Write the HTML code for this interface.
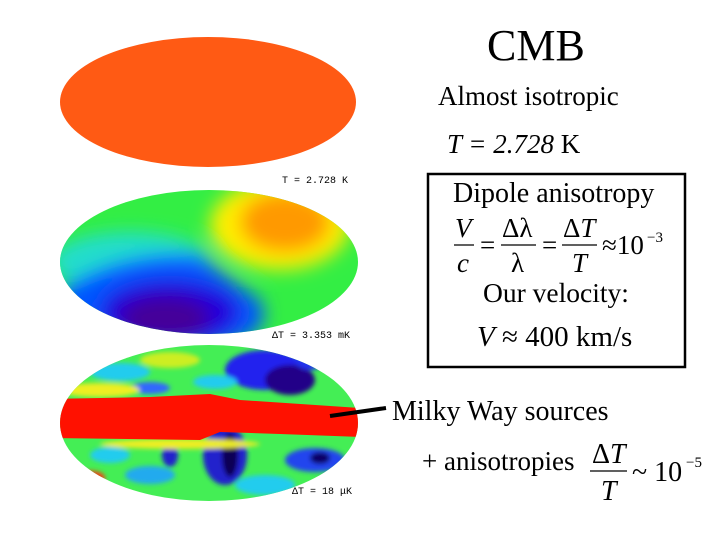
<!DOCTYPE html>
<html><head><meta charset="utf-8"><style>
html,body{margin:0;padding:0;background:#fff;width:720px;height:540px;overflow:hidden}
svg{display:block}
.s{font-family:"Liberation Serif",serif;fill:#000}
</style></head><body>
<svg width="720" height="540" viewBox="0 0 720 540">
<defs>
<clipPath id="c2"><ellipse cx="209" cy="262" rx="149" ry="72"/></clipPath>
<clipPath id="c3"><ellipse cx="209" cy="423" rx="149" ry="78"/></clipPath>
<filter id="b1" x="-50%" y="-50%" width="200%" height="200%"><feGaussianBlur stdDeviation="9"/></filter>
<filter id="b2" x="-50%" y="-50%" width="200%" height="200%"><feGaussianBlur stdDeviation="2.5"/></filter>
</defs>

<ellipse cx="208" cy="102" rx="148" ry="65" fill="#ff5a14"/>
<text x="282" y="183" font-family="Liberation Mono,monospace" font-size="10">T = 2.728 K</text>

<g clip-path="url(#c2)">
<rect x="50" y="180" width="320" height="170" fill="#33ee44"/>
<g filter="url(#b1)">
<ellipse cx="280" cy="225" rx="70" ry="45" fill="#ffee00"/>
<ellipse cx="285" cy="222" rx="45" ry="30" fill="#ff9900"/>
<ellipse cx="130" cy="262" rx="80" ry="30" fill="#22ddcc"/>
<path d="M60 290 Q120 250 200 255 Q230 280 260 300 Q280 340 200 350 L60 350 Z" fill="#0055ff"/>
<ellipse cx="170" cy="312" rx="70" ry="33" fill="#2200dd"/>
<ellipse cx="165" cy="318" rx="45" ry="22" fill="#440099"/>
</g>
</g>
<text x="272" y="338" font-family="Liberation Mono,monospace" font-size="10">ΔT = 3.353 mK</text>

<g clip-path="url(#c3)">
<rect x="50" y="340" width="320" height="170" fill="#44ee55"/>
<g filter="url(#b2)">
<ellipse cx="265" cy="370" rx="40" ry="20" fill="#2222ee"/>
<ellipse cx="290" cy="380" rx="25" ry="15" fill="#220088"/>
<ellipse cx="310" cy="360" rx="15" ry="10" fill="#2233ee"/>
<ellipse cx="120" cy="372" rx="30" ry="9" fill="#22ccee"/>
<ellipse cx="150" cy="388" rx="20" ry="6" fill="#3366ff"/>
<ellipse cx="215" cy="382" rx="22" ry="7" fill="#22ccee"/>
<ellipse cx="225" cy="455" rx="22" ry="30" fill="#2222cc"/>
<ellipse cx="230" cy="455" rx="8" ry="22" fill="#110055"/>
<ellipse cx="315" cy="460" rx="30" ry="12" fill="#2244ee"/>
<ellipse cx="320" cy="458" rx="10" ry="6" fill="#110066"/>
<ellipse cx="150" cy="475" rx="25" ry="9" fill="#22aaee"/>
<ellipse cx="170" cy="455" rx="8" ry="12" fill="#2222cc"/>
<ellipse cx="110" cy="455" rx="20" ry="8" fill="#22ccee"/>
<ellipse cx="265" cy="485" rx="30" ry="10" fill="#22ccee"/>
<ellipse cx="90" cy="478" rx="15" ry="7" fill="#ff3311"/>
<ellipse cx="170" cy="360" rx="30" ry="8" fill="#ccee22"/>
<ellipse cx="100" cy="390" rx="40" ry="7" fill="#eeee22"/>
<ellipse cx="180" cy="444" rx="80" ry="5" fill="#eeee22"/>
</g>
<path d="M50 399 L150 397 L210 394 L240 400 L360 408 L360 437 L280 434 L220 432 L200 440 L50 438 Z" fill="#ff1100"/>
</g>
<text x="292" y="494" font-family="Liberation Mono,monospace" font-size="10">ΔT = 18 μK</text>
<line x1="330" y1="416" x2="386" y2="408" stroke="#000" stroke-width="4"/>

<text class="s" x="487" y="60" font-size="44">CMB</text>
<text class="s" x="438" y="105" font-size="27">Almost isotropic</text>
<text class="s" x="447" y="153" font-size="27"><tspan font-style="italic">T = 2.728</tspan> K</text>

<rect x="428" y="174" width="257" height="193" fill="none" stroke="#000" stroke-width="2.5"/>
<text class="s" x="453" y="202" font-size="28">Dipole anisotropy</text>
<g class="s" font-size="27">
<text x="455" y="237" font-style="italic">V</text>
<line x1="454" y1="245" x2="474" y2="245" stroke="#000" stroke-width="1.3"/>
<text x="457" y="272" font-style="italic">c</text>
<text x="480" y="254">=</text>
<text x="502" y="237">Δλ</text>
<line x1="501" y1="245" x2="536" y2="245" stroke="#000" stroke-width="1.3"/>
<text x="511" y="272">λ</text>
<text x="542" y="254">=</text>
<text x="563" y="237">Δ<tspan font-style="italic">T</tspan></text>
<line x1="562" y1="245" x2="597" y2="245" stroke="#000" stroke-width="1.3"/>
<text x="572" y="272" font-style="italic">T</text>
<text x="602" y="254">≈10</text>
<text x="647" y="242" font-size="15">−3</text>
</g>
<text class="s" x="483" y="302" font-size="27.5">Our velocity:</text>
<text class="s" x="477" y="346" font-size="29"><tspan font-style="italic">V</tspan> ≈ 400 km/s</text>

<text class="s" x="392" y="420" font-size="28">Milky Way sources</text>
<text class="s" x="422" y="470" font-size="27">+ anisotropies</text>
<g class="s" font-size="28">
<text x="592" y="463">Δ<tspan font-style="italic">T</tspan></text>
<line x1="590" y1="471" x2="627" y2="471" stroke="#000" stroke-width="1.3"/>
<text x="601" y="500" font-style="italic">T</text>
<text x="632" y="481">~ 10</text>
<text x="686" y="467" font-size="15">−5</text>
</g>
</svg>
</body></html>
